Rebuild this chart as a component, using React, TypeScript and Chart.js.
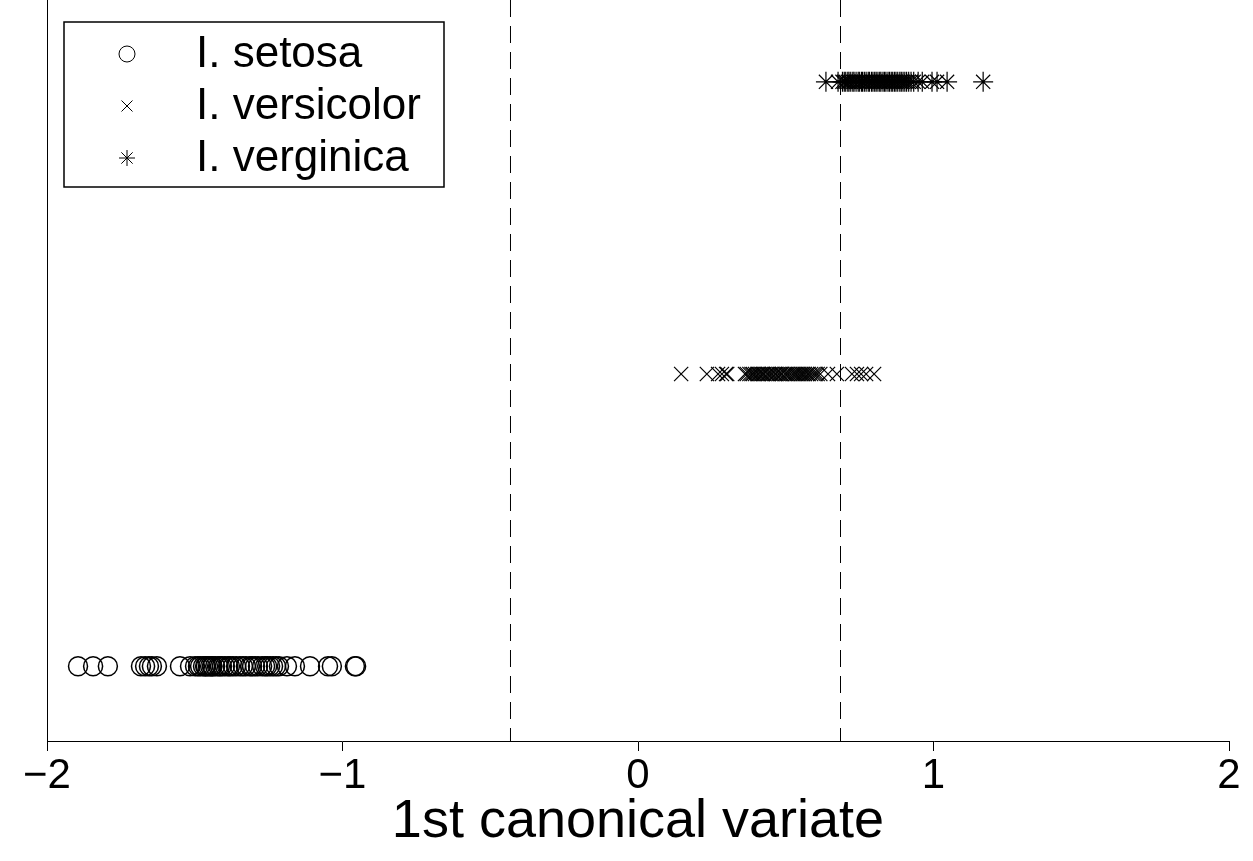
import React, { useEffect, useRef } from "react";
import { Chart, registerables } from "chart.js";

Chart.register(...registerables);

const seriesNames = ["I. setosa", "I. versicolor", "I. verginica"];
const seriesLevels = [1, 2, 3];

const setosaX = [
  -1.895, -1.844, -1.794, -1.682, -1.668, -1.655, -1.645, -1.628, -1.55,
  -1.516, -1.499, -1.489, -1.482, -1.472, -1.465, -1.462, -1.455, -1.448,
  -1.442, -1.431, -1.421, -1.415, -1.408, -1.398, -1.387, -1.381, -1.371,
  -1.36, -1.347, -1.337, -1.327, -1.313, -1.306, -1.296, -1.286, -1.272,
  -1.262, -1.255, -1.245, -1.235, -1.225, -1.215, -1.188, -1.161, -1.11,
  -1.049, -1.036, -0.958, -0.954, -1.44,
];

const versicolorX = [
  0.146, 0.233, 0.271, 0.284, 0.298, 0.302, 0.362, 0.368, 0.377, 0.384,
  0.389, 0.396, 0.404, 0.409, 0.417, 0.423, 0.428, 0.437, 0.442, 0.449,
  0.455, 0.463, 0.468, 0.476, 0.483, 0.488, 0.497, 0.503, 0.509, 0.516,
  0.524, 0.531, 0.537, 0.544, 0.552, 0.558, 0.565, 0.573, 0.578, 0.586,
  0.594, 0.601, 0.608, 0.617, 0.643, 0.673, 0.724, 0.741, 0.755, 0.772,
  0.799,
];

const verginicaX = [
  0.636, 0.677, 0.692, 0.698, 0.703, 0.71, 0.714, 0.72, 0.727, 0.731, 0.738,
  0.745, 0.749, 0.756, 0.76, 0.766, 0.772, 0.779, 0.783, 0.79, 0.795, 0.801,
  0.806, 0.812, 0.818, 0.822, 0.829, 0.834, 0.839, 0.846, 0.851, 0.857,
  0.862, 0.868, 0.873, 0.879, 0.886, 0.891, 0.897, 0.903, 0.909, 0.916,
  0.924, 0.933, 0.948, 0.962, 0.995, 1.012, 1.046, 1.168,
];

const boundaryX = [-0.4315, 0.6853];
const xTicks = [-2, -1, 0, 1, 2];
const xTitle = "1st canonical variate";

const FONT = "'Liberation Sans', Arial, Helvetica, sans-serif";
const Y_MIN = 0.744;
const Y_MAX = 3.28;

function drawMarker(ctx: CanvasRenderingContext2D, kind: string, x: number, y: number, r: number) {
  ctx.beginPath();
  if (kind === "circle") {
    ctx.arc(x, y, r, 0, Math.PI * 2);
  } else if (kind === "cross") {
    ctx.moveTo(x - r, y - r);
    ctx.lineTo(x + r, y + r);
    ctx.moveTo(x - r, y + r);
    ctx.lineTo(x + r, y - r);
  } else {
    ctx.moveTo(x - r, y);
    ctx.lineTo(x + r, y);
    ctx.moveTo(x, y - r);
    ctx.lineTo(x, y + r);
    const d = r * 0.7071;
    ctx.moveTo(x - d, y - d);
    ctx.lineTo(x + d, y + d);
    ctx.moveTo(x - d, y + d);
    ctx.lineTo(x + d, y - d);
  }
  ctx.stroke();
}

const legendPlugin = {
  id: "boxLegend",
  afterDraw(chart: any) {
    const ctx: CanvasRenderingContext2D = chart.ctx;
    ctx.save();
    ctx.fillStyle = "#ffffff";
    ctx.strokeStyle = "#000000";
    ctx.lineWidth = 1.5;
    ctx.fillRect(64, 22, 380, 165);
    ctx.strokeRect(64, 22, 380, 165);
    const kinds = ["circle", "cross", "star"];
    const sizes = [8, 5.5, 8];
    const rows = [54, 106, 158];
    ctx.lineWidth = 1;
    for (let i = 0; i < seriesNames.length; i++) {
      drawMarker(ctx, kinds[i], 127, rows[i], sizes[i]);
      ctx.fillStyle = "#000000";
      ctx.font = `44px ${FONT}`;
      ctx.textBaseline = "middle";
      ctx.textAlign = "left";
      ctx.fillText(seriesNames[i], 196, rows[i] + 1);
    }
    ctx.restore();
  },
};

export default function App() {
  const ref = useRef<HTMLCanvasElement | null>(null);

  useEffect(() => {
    document.body.style.margin = "0";
    const canvas = ref.current;
    if (!canvas) return;
    const toPts = (xs: number[], lvl: number) => xs.map((x) => ({ x, y: lvl }));
    const chart = new Chart(canvas, {
      type: "scatter",
      data: {
        datasets: [
          ...boundaryX.map((bx) => ({
            label: "boundary",
            data: [
              { x: bx, y: Y_MAX },
              { x: bx, y: Y_MIN },
            ],
            showLine: true,
            borderColor: "#000000",
            borderWidth: 1,
            borderDash: [17, 9],
            pointRadius: 0,
          })),
          {
            label: seriesNames[0],
            data: toPts(setosaX, seriesLevels[0]),
            pointStyle: "circle",
            pointRadius: 9.5,
            borderColor: "#000000",
            backgroundColor: "rgba(0,0,0,0)",
            pointBorderWidth: 1.5,
          },
          {
            label: seriesNames[1],
            data: toPts(versicolorX, seriesLevels[1]),
            pointStyle: "crossRot",
            pointRadius: 10,
            borderColor: "#000000",
            pointBorderWidth: 1.2,
          },
          {
            label: seriesNames[2],
            data: toPts(verginicaX, seriesLevels[2]),
            pointStyle: "star",
            pointRadius: 10,
            borderColor: "#000000",
            pointBorderWidth: 1.2,
          },
        ] as any,
      },
      options: {
        animation: false,
        responsive: false,
        maintainAspectRatio: false,
        layout: { autoPadding: false, padding: { left: 47, right: 24, top: 0, bottom: 0 } },
        plugins: { legend: { display: false }, tooltip: { enabled: false } },
        scales: {
          x: {
            type: "linear",
            min: -2,
            max: 2,
            afterBuildTicks: (s: any) => {
              s.ticks = xTicks.map((v) => ({ value: v }));
            },
            afterFit: (s: any) => {
              s.height = 120;
            },
            ticks: {
              color: "#000000",
              font: { family: FONT, size: 42 },
              padding: 0,
              maxRotation: 0,
              callback: (v: any) => String(v).replace("-", "\u2212"),
            },
            grid: {
              display: true,
              drawOnChartArea: false,
              drawTicks: true,
              tickLength: 10,
              color: "#000000",
              lineWidth: 1,
            },
            border: { display: true, color: "#000000", width: 1 },
            title: {
              display: true,
              text: xTitle,
              color: "#000000",
              font: { family: FONT, size: 54 },
              padding: { top: 0, bottom: 6 },
            },
          },
          y: {
            type: "linear",
            min: Y_MIN,
            max: Y_MAX,
            afterFit: (s: any) => {
              s.width = 0;
            },
            ticks: { display: false },
            grid: { display: false },
            border: { display: true, color: "#000000", width: 1 },
          },
        },
      } as any,
      plugins: [legendPlugin],
    });
    return () => chart.destroy();
  }, []);

  return (
    <canvas
      ref={ref}
      width={1253}
      height={861}
      style={{ display: "block", width: 1253, height: 861 }}
    />
  );
}
